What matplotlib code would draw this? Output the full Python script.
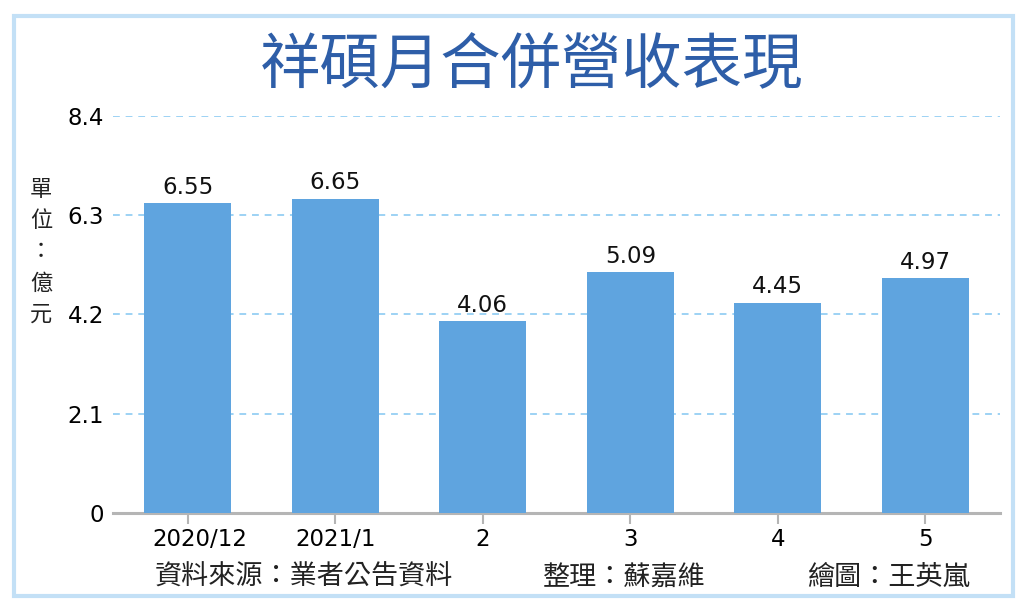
import matplotlib
matplotlib.use('Agg')
import matplotlib.pyplot as plt
import matplotlib.transforms as mtransforms
from matplotlib.patches import Rectangle

# 祥碩月合併營收 (億元)
months = ['2020/12', '2021/1', '2', '3', '4', '5']
revenue = [6.55, 6.65, 4.06, 5.09, 4.45, 4.97]
y_ticks = [0, 2.1, 4.2, 6.3, 8.4]
y_labels = ['0', '2.1', '4.2', '6.3', '8.4']

cjk = ['Noto Sans CJK TC', 'DejaVu Sans']
num = ['DejaVu Sans']

bar_color = '#5fa4df'
grid_color = '#9dd2f4'

fig = plt.figure(figsize=(10.24, 6.10), dpi=100)
ax = fig.add_axes([0.110, 0.159, 0.867, 0.651])

x = range(len(months))
bars = ax.bar(x, revenue, width=0.59, color=bar_color, zorder=3)

for b, v in zip(bars, revenue):
    ax.text(b.get_x() + b.get_width() / 2, v + 0.09, f'{v:.2f}',
            ha='center', va='bottom', fontsize=16.5, family=num, color='#111111')

ax.set_xlim(-0.51, 5.51)
ax.set_ylim(0, 8.4)
ax.set_yticks(y_ticks)
ax.set_yticklabels(y_labels, family=num, fontsize=16.5)
ax.set_xticks(list(x))
ax.set_xticklabels(months, family=num, fontsize=16.5)

for t in y_ticks[1:]:
    ax.axhline(t, color=grid_color, lw=1.4, ls=(0, (3.5, 3)), zorder=1)

for s in ['top', 'right', 'left']:
    ax.spines[s].set_visible(False)
ax.spines['bottom'].set_color('#b5b5b5')
ax.spines['bottom'].set_linewidth(2.2)
ax.tick_params(axis='y', length=0, pad=6)
ax.tick_params(axis='x', length=8, width=1.5, color='#b5b5b5', pad=3)

# first label sits a little right of its tick in the original
# (after tick_params, which resets label transforms)
lbl = ax.xaxis.get_major_ticks()[0].label1
lbl.set_transform(lbl.get_transform() +
                  mtransforms.ScaledTranslation(0.12, 0, fig.dpi_scale_trans))

# title
fig.text(0.519, 0.892, '祥碩月合併營收表現', ha='center', va='center',
         fontsize=43.5, family=cjk, color='#2e5ea8')

# unit label, stacked vertically
fig.text(0.040, 0.587, '單\n位\n：\n億\n元', ha='center', va='center',
         fontsize=16, family=cjk, color='#222222', linespacing=1.45)

# footer
fig.text(0.151, 0.054, '資料來源：業者公告資料', ha='left', va='center',
         fontsize=19.5, family=cjk, color='#222222')
fig.text(0.530, 0.054, '整理：蘇嘉維', ha='left', va='center',
         fontsize=19.5, family=cjk, color='#222222')
fig.text(0.788, 0.054, '繪圖：王英嵐', ha='left', va='center',
         fontsize=19.5, family=cjk, color='#222222')

# outer frame
fig.patches.append(Rectangle((0.014, 0.023), 0.975, 0.951, transform=fig.transFigure,
                             fill=False, edgecolor='#c3e0f6', lw=3))

fig.savefig('out.png', dpi=100)
